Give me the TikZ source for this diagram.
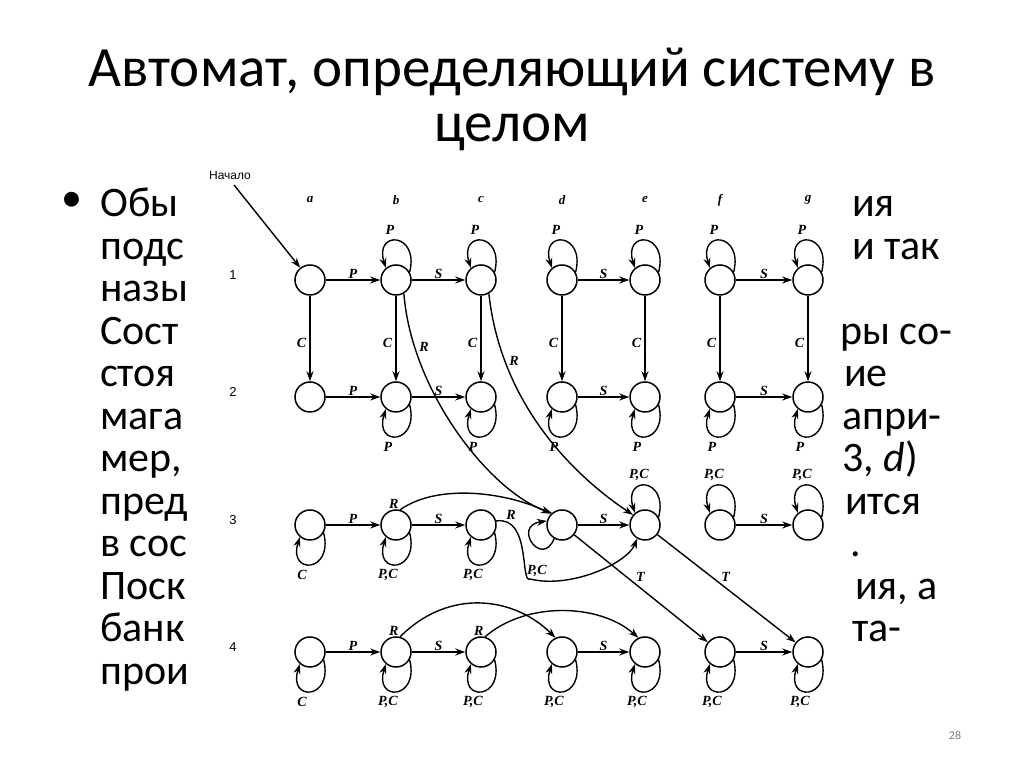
\documentclass[tikz,border=0pt]{standalone}
\usepackage{fontspec}
\setmainfont{Carlito}
\newfontfamily\lab{Liberation Serif}
\newfontfamily\hel{Liberation Sans}
\usetikzlibrary{arrows.meta}
\begin{document}
\begin{tikzpicture}[x=1pt,y=1pt,
  st/.style={circle,draw,line width=1.5pt,minimum size=30pt,inner sep=0pt},
  arr/.style={line width=1.4pt,-{Stealth[length=10pt,width=7pt]}},
  el/.style={font=\lab\bfseries\itshape\fontsize{14}{14}\selectfont,inner sep=1pt},
  txt/.style={font=\fontsize{42}{42}\selectfont,anchor=base west,inner sep=0pt},
  hdr/.style={font=\lab\bfseries\itshape\fontsize{13}{13}\selectfont},
  rowl/.style={font=\hel\fontsize{13}{13}\selectfont}]
\useasboundingbox (0,0) rectangle (1024,767);
\fill[white] (0,0) rectangle (1024,767);
\node[font=\fontsize{57}{57}\selectfont] (t1) at (512,695) {Автомат, определяющий систему в};
\node[font=\fontsize{57}{57}\selectfont] (t2) at (512,635) {целом};
\node[font=\fontsize{42}{42}\selectfont] (bul) at (72,565) {•};
\foreach \w [count=\i from 0] in {Обы,подс,назы,Сост,стоя,мага,{мер,},пред,в сос,Поск,банк,прои}
  \node[txt] (l\i) at (100,550-42.5*\i) {\w};
\node[txt] (r0) at (852,550) {ия};
\node[txt] (r1) at (852,507.5) {и так};
\node[txt] (r3) at (840,422.5) {ры со-};
\node[txt] (r4) at (844,380) {ие};
\node[txt] (r5) at (842,337.5) {апри-};
\node[txt] (r6) at (842,295) {3, \textit{d})};
\node[txt] (r7) at (845,252.5) {ится};
\node[txt] (r8) at (850,210) {.};
\node[txt] (r9) at (855,167.5) {ия, а};
\node[txt] (r10) at (852,125) {та-};
\node[font=\fontsize{12}{12}\selectfont,text=gray] (num) at (955,32) {28};
% headers
\foreach \c/\x in {a/310,b/396,c/481,d/562,e/645,f/720,g/808}
  \node[hdr] (h\c) at (\x,567) {\c};
\foreach \r/\y in {1/487,2/370,3/242,4/115}{
  \node[rowl] (rl\r) at (233,\y+5) {\r};
  \foreach \c/\x in {a/310,b/396,c/481,d/562,e/645,f/720,g/808}
    \node[st] (\c\r) at (\x,\y) {};
}
\node[font=\hel\fontsize{12}{12}\selectfont] (start) at (230,592) {Начало};
\coordinate (s0) at (234,582);
\draw[arr] (s0) -- (a1);
% loop macros
\newcommand{\lup}[2]{\draw[arr] (#1.30) .. controls +(10,40) and +(-12,38) .. (#1.130);
  \node[el] at ([xshift=-6pt,yshift=50pt]#1.center) {#2};}
\newcommand{\ldn}[2]{\draw[arr] (#1.-30) .. controls +(10,-40) and +(-12,-38) .. (#1.-130);
  \node[el] at ([xshift=-8pt,yshift=-50pt]#1.center) {#2};}
% row1 & 2
\foreach \n in {b1,c1,d1,e1,f1,g1} {\lup{\n}{P}}
\foreach \n in {b2,c2,d2,e2,f2,g2} {\ldn{\n}{P}}
\foreach \r/\l in {1/P,2/P}{
  \draw[arr] (a\r) -- node[el,above]{\l} (b\r);
  \draw[arr] (b\r) -- node[el,above]{S} (c\r);
  \draw[arr] (d\r) -- node[el,above]{S} (e\r);
  \draw[arr] (f\r) -- node[el,above]{S} (g\r);
}
\foreach \c in {a,b,c,d,e,f,g}
  \draw[arr] (\c1) -- node[el,left=2pt,pos=0.55]{C} (\c2);
% row3
\ldn{a3}{C}\ldn{b3}{P,C}\ldn{c3}{P,C}
\lup{e3}{P,C}\lup{f3}{P,C}\lup{g3}{P,C}
\draw[arr] (d3.-120) .. controls +(-12,-30) and +(-35,-5) .. (d3.165);
\node[el] at (537,196) {P,C};
\draw[arr] (a3) -- node[el,above]{P} (b3);
\draw[arr] (b3) -- node[el,above]{S} (c3);
\draw[arr] (d3) -- node[el,above]{S} (e3);
\draw[arr] (f3) -- node[el,above]{S} (g3);
\draw[arr] (b3.75) .. controls +(40,28) and +(-40,20) .. node[el,pos=0,above left]{R} (d3.135);
\draw[arr] (c3.15) .. controls +(35,5) and +(-10,-5) .. (530,188) .. controls +(40,-10) and +(-10,-25) .. (e3.-120);
\node[el] at (511,252) {R};
\draw[arr] (d3) -- node[el,pos=0.45,above right]{T} (f4);
\draw[arr] (e3) -- node[el,pos=0.45,above right]{T} (g4);
% long R curves
\draw[arr] (b1.-60) .. controls +(8,-100) and +(-60,20) .. node[el,pos=0.18,right=3pt]{R} (d3.130);
\draw[arr] (c1.-60) .. controls +(12,-110) and +(-60,40) .. node[el,pos=0.22,right=3pt]{R} (e3.140);
% row4
\ldn{a4}{C}
\foreach \n in {b4,c4,d4,e4,f4,g4} {\ldn{\n}{P,C}}
\draw[arr] (a4) -- node[el,above]{P} (b4);
\draw[arr] (b4) -- node[el,above]{S} (c4);
\draw[arr] (d4) -- node[el,above]{S} (e4);
\draw[arr] (f4) -- node[el,above]{S} (g4);
\draw[arr] (b4.75) .. controls +(50,50) and +(-40,40) .. node[el,pos=0,above left]{R} (d4.115);
\draw[arr] (c4.75) .. controls +(40,35) and +(-40,35) .. node[el,pos=0,above left]{R} (e4.115);
\end{tikzpicture}
\end{document}
